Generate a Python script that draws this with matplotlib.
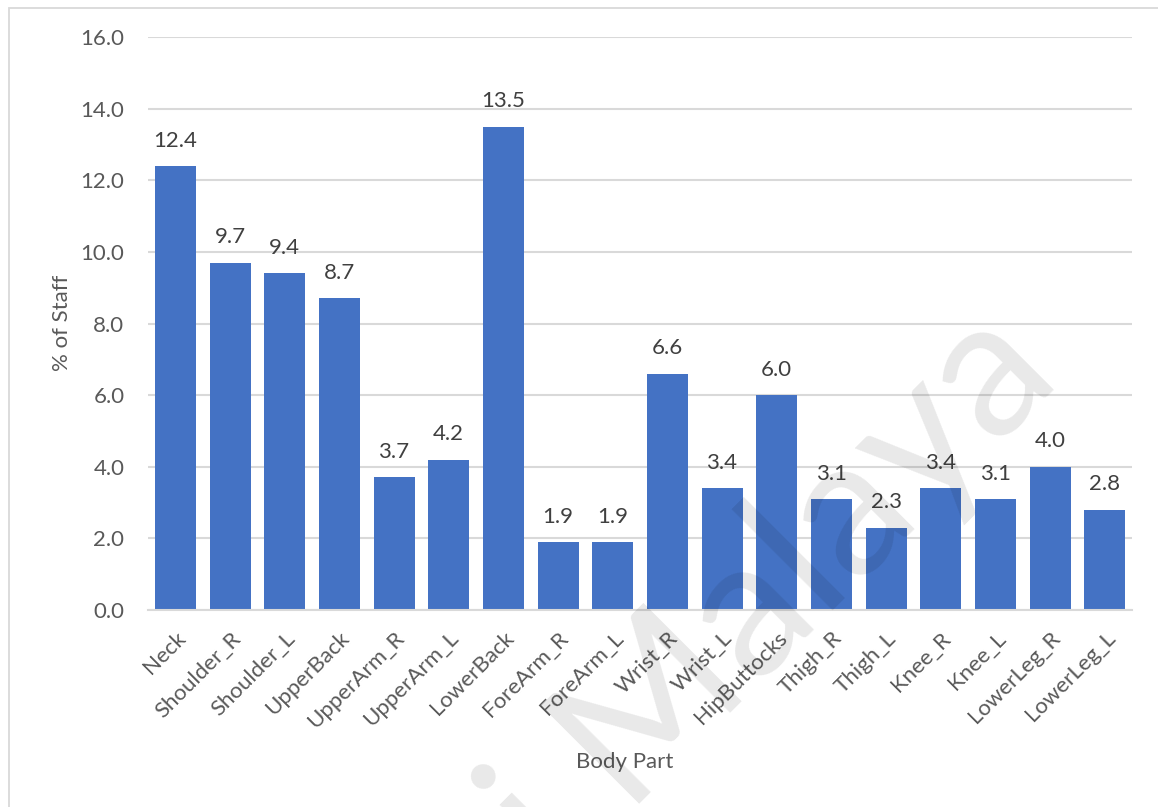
import matplotlib
matplotlib.use("Agg")
import matplotlib.pyplot as plt
from matplotlib.patches import Rectangle

body_parts = ["Neck", "Shoulder_R", "Shoulder_L", "UpperBack", "UpperArm_R",
              "UpperArm_L", "LowerBack", "ForeArm_R", "ForeArm_L", "Wrist_R",
              "Wrist_L", "HipButtocks", "Thigh_R", "Thigh_L", "Knee_R",
              "Knee_L", "LowerLeg_R", "LowerLeg_L"]
pct_staff = [12.4, 9.7, 9.4, 8.7, 3.7, 4.2, 13.5, 1.9, 1.9, 6.6,
             3.4, 6.0, 3.1, 2.3, 3.4, 3.1, 4.0, 2.8]
y_ticks = [0.0, 2.0, 4.0, 6.0, 8.0, 10.0, 12.0, 14.0, 16.0]

W, H = 1158, 807
fig = plt.figure(figsize=(W / 100, H / 100), dpi=100)
plt.rcParams["font.family"] = ["Lato", "DejaVu Sans"]

# chart frame
fig.patches.append(Rectangle((9 / W, -0.05), 1.2, (H - 8) / H + 0.05,
                             transform=fig.transFigure, fill=False,
                             edgecolor="#d9d9d9", linewidth=1.3))

ax = fig.add_axes([148 / W, 1 - 610 / H, (1132 - 148) / W, (610 - 37) / H])
x = range(len(body_parts))
bars = ax.bar(x, pct_staff, width=0.75, color="#4472c4", zorder=2)
ax.set_xlim(-0.5, len(body_parts) - 0.5)
ax.set_ylim(0, 16)
ax.set_yticks(y_ticks)
ax.set_yticklabels([f"{v:.1f}" for v in y_ticks], fontsize=16, color="#595959")
ax.set_xticks(list(x))
ax.set_xticklabels(body_parts, rotation=45, ha="right", rotation_mode="anchor",
                   fontsize=16, color="#595959")
ax.tick_params(axis="y", length=0, pad=17)
ax.tick_params(axis="x", length=0, pad=13)
ax.grid(axis="y", color="#d9d9d9", linewidth=1.5, zorder=0)
ax.set_axisbelow(True)
for s in ["top", "right", "left"]:
    ax.spines[s].set_visible(False)
ax.spines["bottom"].set_color("#d9d9d9")
ax.spines["bottom"].set_linewidth(1.5)

for xi, v in zip(x, pct_staff):
    ax.annotate(f"{v:.1f}", (xi, v), xytext=(0, 11), textcoords="offset points",
                ha="center", va="bottom", fontsize=16, color="#404040")

fig.text(62 / W, 1 - 323 / H, "% of Staff", rotation=90, ha="center",
         va="center", fontsize=16, color="#595959")
fig.text(625 / W, 1 - 762 / H, "Body Part", ha="center", va="center",
         fontsize=16, color="#595959")

# watermark
fig.text(1063 / W, 1 - 380 / H, "Universiti Malaya", rotation=45,
         ha="right", va="baseline", rotation_mode="anchor", fontsize=140,
         color="black", alpha=0.09, zorder=10)

fig.savefig("out.png", dpi=100)
